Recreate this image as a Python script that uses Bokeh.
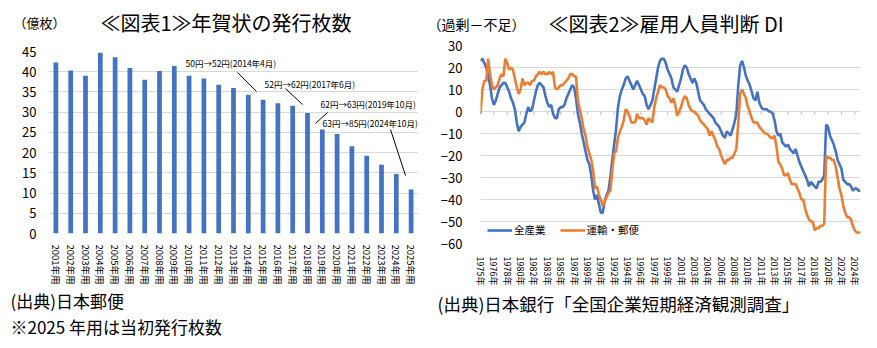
from bokeh.plotting import figure
from bokeh.layouts import row, column
from bokeh.models import Range1d, FixedTicker, Label, Arrow, Legend, LegendItem
from bokeh.embed import file_html
from bokeh.resources import INLINE

FONT = "Noto Sans CJK JP"

# ---------------- data: chart 1 (New Year card issuance, 100 million) ----------------
card_years = ["2001年用", "2002年用", "2003年用", "2004年用", "2005年用", "2006年用", "2007年用",
              "2008年用", "2009年用", "2010年用", "2011年用", "2012年用", "2013年用", "2014年用",
              "2015年用", "2016年用", "2017年用", "2018年用", "2019年用", "2020年用", "2021年用",
              "2022年用", "2023年用", "2024年用", "2025年用"]
card_counts = [42.3, 40.3, 39.0, 44.7, 43.6, 40.9, 38.0, 40.2, 41.4, 39.0, 38.3, 36.8, 36.0,
               34.3, 33.1, 32.2, 31.6, 29.8, 25.7, 24.6, 21.6, 19.2, 17.0, 14.7, 10.9]
card_ticks = [0, 5, 10, 15, 20, 25, 30, 35, 40, 45]
price_notes = ["50円→52円(2014年4月)", "52円→62円(2017年6月)",
               "62円→63円(2019年10月)", "63円→85円(2024年10月)"]

# ---------------- data: chart 2 (Tankan employment DI, quarterly from 1975) ----------------
di_all = [23, 24, 22, 20, 16, 12, 6, 3, 5, 8, 11, 12, 13, 13, 11, 9, 6, 4, 1, -5,
          -9, -7, -6, -5, -1, 2, 0, 1, 5, 9, 12, 13, 12, 11, 7, 4, 2, 3, -1, -3,
          -3, 1, 2, 2, 3, 6, 8, 10, 12, 11, 6, -1, -5, -10, -14, -18, -22, -24, -29, -36,
          -40, -38, -42, -46, -46, -41, -38, -36, -30, -22, -15, -8, 2, 7, 10, 12, 15, 16, 14, 12,
          10, 12, 14, 12, 10, 8, 7, 3, 1, 3, 5, 10, 15, 20, 23, 24, 24, 22, 19, 17,
          15, 11, 10, 9, 12, 15, 19, 21, 20, 17, 15, 13, 15, 13, 9, 5, 4, 3, 1, 0,
          -1, -2, -3, -5, -6, -7, -9, -11, -12, -9, -10, -11, -8, -5, -1, 12, 21, 23, 20, 16,
          14, 12, 9, 6, 5, 9, 4, 2, 1, 1, 1, 0, 0, -1, -4, -9, -11, -10, -14, -15,
          -16, -15, -17, -18, -19, -17, -20, -23, -25, -27, -29, -31, -34, -32, -33, -34, -35, -32, -32, -31,
          -29, -6, -7, -11, -13, -15, -18, -22, -24, -26, -31, -32, -33, -33, -34, -36, -35, -35, -36, -36]
di_transport = [-1, 10, 14, 14, 24, 17, 12, 10, 11, 12, 15, 17, 16, 24, 22, 19, 20, 19, 15, 11,
                8, 10, 15, 12, 13, 13, 12, 14, 14, 16, 17, 18, 17, 18, 17, 17, 18, 17, 18, 11,
                10, 11, 12, 12, 13, 14, 15, 17, 17, 16, 16, 5, 1, -3, -8, -11, -16, -19, -22, -27,
                -35, -34, -38, -40, -43, -41, -39, -37, -36, -27, -19, -18, -12, -9, -7, -4, 1, 0, -2, -5,
                -5, -5, -1, -3, -3, -3, -4, -6, -3, -4, -5, 2, 6, 9, 12, 11, 11, 10, 7, 6,
                4, 6, 3, -2, 0, 2, 5, 7, 6, 3, 1, 0, 0, -1, -2, -4, -5, -6, -7, -8,
                -11, -9, -11, -13, -16, -17, -20, -22, -24, -22, -22, -21, -21, -19, -17, -5, 8, 10, 8, 6,
                2, 0, -3, -5, -5, -5, -7, -8, -9, -10, -10, -11, -12, -12, -11, -16, -23, -24, -26, -29,
                -29, -28, -31, -33, -33, -33, -35, -37, -40, -40, -44, -47, -49, -50, -50, -54, -53, -53, -52, -52,
                -51, -20, -21, -21, -22, -22, -25, -30, -35, -38, -43, -46, -48, -48, -49, -52, -54, -55, -55, -55]
di_year_labels = ["1975年", "1976年", "1978年", "1980年", "1982年", "1983年", "1985年", "1987年",
                  "1989年", "1990年", "1992年", "1994年", "1996年", "1997年", "1999年", "2001年",
                  "2003年", "2004年", "2006年", "2008年", "2010年", "2011年", "2013年", "2015年",
                  "2017年", "2018年", "2020年", "2022年", "2024年"]
di_ticks = [30, 20, 10, 0, -10, -20, -30, -40, -50, -60]
series_names = ["全産業", "運輸・郵便"]

BLUE = "#4472C4"
ORANGE = "#ED7D31"
GRID = "#d9d9d9"
TXT = "#000000"

W1, W2 = 425, 452
TOP_H, MAIN_H, FOOT_H = 37, 251, 60


def screen_label(p, x, y, text, size, align="left", baseline="middle"):
    p.add_layout(Label(x=x, y=y, x_units="screen", y_units="screen", text=text,
                       text_font=FONT, text_font_size=size, text_color=TXT,
                       text_align=align, text_baseline=baseline))


def text_panel(w, h):
    t = figure(width=w, height=h, x_range=Range1d(0, 1), y_range=Range1d(0, 1),
               output_backend="svg", toolbar_location=None, frame_align=False,
               min_border_left=0, min_border_right=0, min_border_top=0, min_border_bottom=0)
    t.axis.visible = False
    t.grid.grid_line_color = None
    t.outline_line_color = None
    t.background_fill_color = "white"
    t.border_fill_color = "white"
    return t


# ---------------- figure 1 ----------------
p1 = figure(width=W1, height=MAIN_H, x_range=card_years, y_range=Range1d(0, 45),
            output_backend="svg", toolbar_location=None, frame_align=False,
            min_border_left=48, min_border_right=7, min_border_top=14, min_border_bottom=55)
p1.outline_line_color = None
p1.background_fill_color = "white"
p1.border_fill_color = "white"
p1.vbar(x=card_years, top=card_counts, width=0.32, fill_color=BLUE, line_color=None)
p1.xgrid.grid_line_color = None
p1.ygrid.grid_line_color = GRID
p1.yaxis.ticker = FixedTicker(ticks=card_ticks)
p1.yaxis.axis_line_color = None
p1.yaxis.major_tick_line_color = None
p1.yaxis.minor_tick_line_color = None
p1.yaxis.major_label_text_font = FONT
p1.yaxis.major_label_text_font_size = "13px"
p1.yaxis.major_label_text_color = TXT
p1.yaxis.major_label_standoff = 6
p1.xaxis.axis_line_color = None
p1.xaxis.major_tick_line_color = None
p1.xaxis.major_label_orientation = "vertical"
p1.xaxis.major_label_text_font = FONT
p1.xaxis.major_label_text_font_size = "9.5px"
p1.xaxis.major_label_text_color = TXT
p1.xaxis.major_label_standoff = 5

note_pos = [(137, 171), (216, 150), (272, 130), (274, 111)]
for (nx, ny), t in zip(note_pos, price_notes):
    screen_label(p1, nx, ny, t, "8.5px")
leaders = [((189, 161), (208, 142)), ((237, 145), (254, 129)),
           ((267, 110), (279, 121)), ((342, 104), (357, 58))]
for (a, b) in leaders:
    p1.add_layout(Arrow(end=None, x_start=a[0], y_start=a[1], x_end=b[0], y_end=b[1],
                        start_units="screen", end_units="screen",
                        line_color="#000000", line_width=1))

top1 = text_panel(W1, TOP_H)
screen_label(top1, 13, 15, "（億枚）", "13px")
screen_label(top1, 100, 15, "≪図表1≫年賀状の発行枚数", "20px")
foot1 = text_panel(W1, FOOT_H)
screen_label(foot1, 10, 48, "(出典)日本郵便", "17px")
screen_label(foot1, 10, 22, "※2025 年用は当初発行枚数", "17px")

# ---------------- figure 2 ----------------
idx = list(range(len(di_all)))
p2 = figure(width=W2, height=MAIN_H, x_range=Range1d(0, len(di_all) - 1), y_range=Range1d(-60, 30),
            output_backend="svg", toolbar_location=None, frame_align=False,
            min_border_left=55, min_border_right=17, min_border_top=8, min_border_bottom=37)
p2.outline_line_color = None
p2.background_fill_color = "white"
p2.border_fill_color = "white"
tick_idx = [7 * k for k in range(len(di_year_labels))]
p2.xgrid.grid_line_color = None
p2.ygrid.grid_line_color = GRID
p2.yaxis.ticker = FixedTicker(ticks=di_ticks)
p2.yaxis.major_label_overrides = {t: str(t).replace("-", "−") for t in di_ticks}
p2.yaxis.axis_line_color = None
p2.yaxis.major_tick_line_color = None
p2.yaxis.minor_tick_line_color = None
p2.yaxis.major_label_text_font = FONT
p2.yaxis.major_label_text_font_size = "13px"
p2.yaxis.major_label_text_color = TXT
p2.yaxis.major_label_standoff = 12
p2.xaxis.ticker = FixedTicker(ticks=tick_idx)
p2.xaxis.major_label_overrides = {t: lab for t, lab in zip(tick_idx, di_year_labels)}
p2.xaxis.axis_line_color = None
p2.xaxis.major_tick_line_color = None
p2.xaxis.minor_tick_line_color = None
p2.xaxis.major_label_orientation = "vertical"
p2.xaxis.major_label_text_font = FONT
p2.xaxis.major_label_text_font_size = "9px"
p2.xaxis.major_label_text_color = TXT
p2.xaxis.major_label_standoff = 7

# small tick marks on the zero line
p2.segment(x0=tick_idx, y0=[0] * len(tick_idx), x1=tick_idx, y1=[-1.6] * len(tick_idx),
           line_color="#bfbfbf", line_width=1)

r1 = p2.line(idx, di_all, line_color=BLUE, line_width=2.6)
r2 = p2.line(idx, di_transport, line_color=ORANGE, line_width=2.6)
legend = Legend(items=[LegendItem(label=series_names[0], renderers=[r1]),
                       LegendItem(label=series_names[1], renderers=[r2])],
                orientation="horizontal", location=(7, 6), padding=0, margin=0, spacing=14,
                glyph_width=25, glyph_height=12, label_standoff=2, label_height=12,
                label_text_font=FONT, label_text_font_size="10.5px", label_text_color=TXT,
                background_fill_alpha=0, border_line_alpha=0)
p2.add_layout(legend)

top2 = text_panel(W2, TOP_H)
screen_label(top2, 2, 14, "（過剰－不足）", "14px")
screen_label(top2, 123, 14, "≪図表2≫雇用人員判断 DI", "20px")
foot2 = text_panel(W2, FOOT_H)
screen_label(foot2, 12, 45, "(出典)日本銀行「全国企業短期経済観測調査」", "17.5px")

layout = row(column(top1, p1, foot1), column(top2, p2, foot2))
open("out.html", "w").write(file_html(layout, INLINE))
